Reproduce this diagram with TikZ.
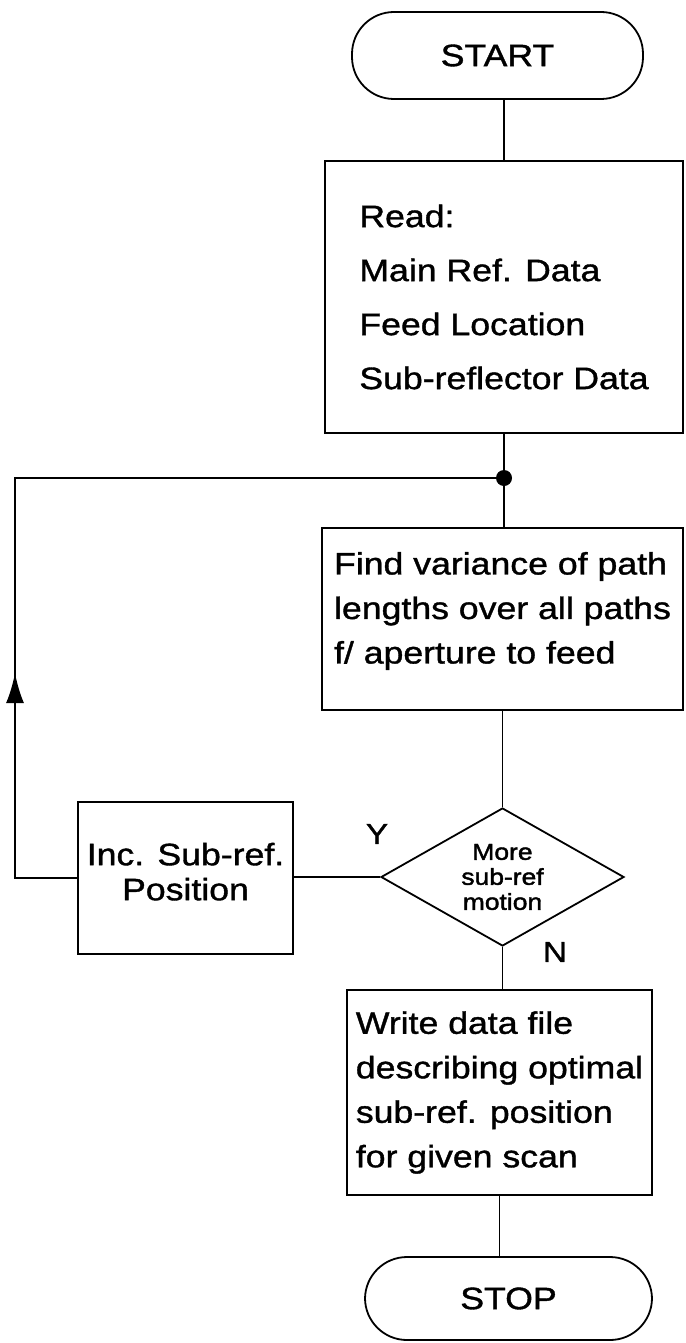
\documentclass[tikz,border=0pt]{standalone}
\usepackage{fontspec}
\setmainfont{Liberation Sans}[FakeStretch=1.15, FakeBold=1.2]
\newfontfamily\decfont{Liberation Sans}[FakeStretch=1.15, FakeBold=1.8]
\usepackage{tikz}
\usetikzlibrary{shapes.geometric, arrows.meta, decorations.markings, calc}

\begin{document}
\begin{tikzpicture}[
    x=1pt, y=-1pt,
    conn/.style={line width=1.8pt},
    term/.style={draw, line width=1.8pt, rectangle, rounded corners=42pt,
        font=\fontsize{31}{36}\selectfont, inner sep=0pt},
    proc/.style={draw, line width=1.8pt, rectangle, inner sep=0pt},
    dec/.style={draw, line width=1.8pt, diamond, aspect=1.76, inner sep=0pt,
        font=\decfont\fontsize{23}{25}\selectfont, align=center},
    yn/.style={font=\fontsize{29}{32}\selectfont},
]

\useasboundingbox (0,0) rectangle (685,1343);

% ════════════════════════════════════════════════════════
% 0. TERMINALS
% ════════════════════════════════════════════════════════
\node[term, minimum width=291pt, minimum height=87pt] (start) at (497.5, 55.5) {START};
\node[term, minimum width=287pt, minimum height=83pt] (stop) at (508.5, 1298.5) {STOP};

% ════════════════════════════════════════════════════════
% 1. PROCESS BOXES
% ════════════════════════════════════════════════════════
\node[proc, minimum width=358pt, minimum height=272pt, align=left,
      font=\fontsize{31}{54}\selectfont] (read) at (504, 297)
    {Read:\\Main Ref. Data\\Feed Location\\Sub-reflector Data};

\node[proc, minimum width=361pt, minimum height=182pt, align=left,
      font=\fontsize{31}{44.5}\selectfont] (find) at (502.5, 619)
    {Find variance of path\\lengths over all paths\\f/ aperture to feed\\[-22pt]};

\node[dec, minimum width=243pt, minimum height=138pt] (more) at (502.5, 877)
    {More\\sub-ref\\motion};

\node[proc, minimum width=215pt, minimum height=152pt, align=center,
      font=\fontsize{31}{35}\selectfont] (inc) at (185.5, 878)
    {Inc. Sub-ref.\\Position\\[-22pt]};

\node[proc, minimum width=305pt, minimum height=205pt, align=left,
      font=\fontsize{31}{44.5}\selectfont] (write) at (499.5, 1092.5)
    {Write data file\\describing optimal\\sub-ref. position\\for given scan};

% Branch labels
\node[yn] (ylab) at (377, 834) {Y};
\node[yn] (nlab) at (555, 952) {N};

% ════════════════════════════════════════════════════════
% 2. CONNECTORS
% ════════════════════════════════════════════════════════
\coordinate (jn) at (504, 478);
\coordinate (lc) at (15, 478);

\draw[conn] (read.north) -- (read.north |- start.south);
\draw[conn] (read.south) -- (read.south |- find.north);
\draw[conn] (find.south) -- (find.south |- more.north);
\draw[conn] (more.west) -- (more.west -| inc.east);
\draw[conn] (more.south) -- (more.south |- write.north);
\draw[conn] (write.south) -- (write.south |- stop.north);

% Loop back to the junction, arrow part way up
\draw[conn, postaction={decorate},
      decoration={markings,
        mark=at position 267pt with {\arrow{Latex[length=30pt, width=18pt]}}}]
    (inc.west) -| (lc) -- (jn);
\fill (jn) circle (8);

\end{tikzpicture}
\end{document}
